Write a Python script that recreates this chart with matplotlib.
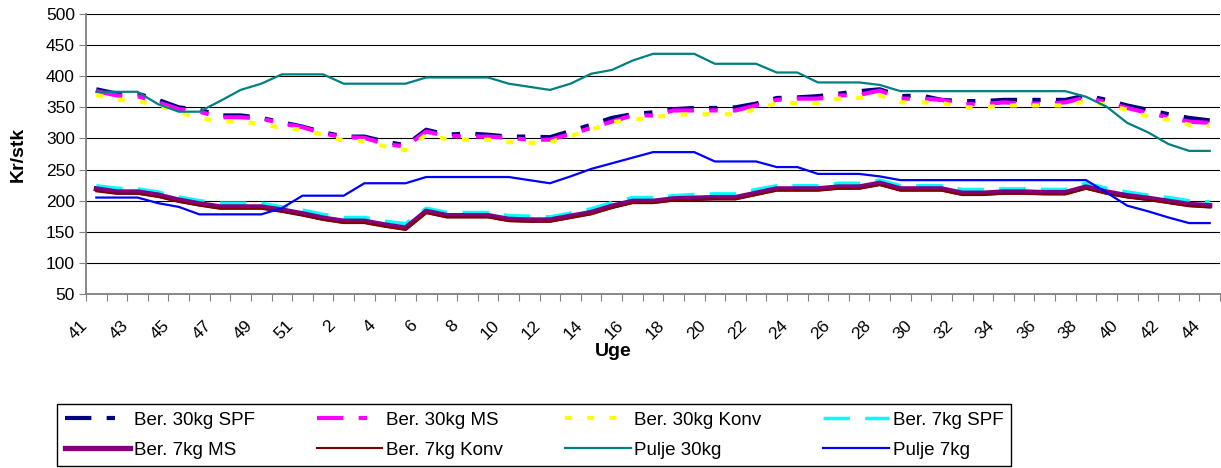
import matplotlib
matplotlib.use('Agg')
import numpy as np
import matplotlib.pyplot as plt
import matplotlib.transforms as mtransforms

plt.rcParams['font.family'] = ['Liberation Sans', 'DejaVu Sans']
plt.rcParams['lines.scale_dashes'] = False

# Week numbers (week 41 -> week 44 next year)
weeks = [41, 42, 43, 44, 45, 46, 47, 48, 49, 50, 51, 52] + list(range(2, 45))

# Prices, kr/stk
spf30 = [379, 372, 372, 362, 350, 346, 337, 337, 333, 326, 319, 310, 303, 303, 295,
         289, 314, 306, 308, 306, 303, 303, 302, 312, 322, 333, 339, 342, 347, 349,
         349, 350, 356, 365, 366, 368, 372, 376, 379, 368, 369, 362, 360, 360, 362,
         362, 362, 362, 369, 362, 353, 346, 339, 333, 329]
ms30 = [376, 369, 368, 358, 347, 343, 334, 334, 332, 324, 318, 308, 302, 301, 291,
        287, 311, 304, 303, 303, 301, 298, 298, 307, 317, 327, 337, 337, 345, 345,
        345, 345, 353, 362, 364, 364, 369, 370, 377, 364, 364, 362, 355, 355, 358,
        356, 356, 358, 366, 358, 349, 341, 334, 327, 325]
konv30 = [370, 362, 360, 353, 342, 333, 327, 327, 323, 317, 314, 306, 296, 296, 287,
          281, 306, 299, 298, 298, 294, 293, 294, 304, 314, 326, 330, 334, 338, 339,
          339, 339, 347, 357, 357, 357, 364, 365, 369, 358, 358, 357, 350, 350, 353,
          353, 353, 353, 360, 354, 346, 335, 330, 322, 320]
spf7 = [224, 220, 219, 214, 206, 200, 196, 196, 196, 190, 185, 178, 173, 173, 167,
        163, 188, 181, 181, 181, 176, 175, 174, 180, 187, 197, 205, 205, 208, 210,
        211, 211, 218, 224, 224, 224, 228, 228, 233, 224, 224, 224, 218, 218, 219,
        219, 218, 218, 228, 220, 214, 209, 205, 200, 198]
ms7 = [219, 214, 214, 209, 201, 195, 190, 190, 190, 185, 179, 172, 167, 167, 161,
       156, 183, 176, 176, 176, 170, 169, 169, 175, 181, 191, 199, 199, 203, 204,
       205, 205, 212, 219, 219, 219, 222, 222, 228, 219, 219, 219, 212, 212, 214,
       214, 213, 213, 222, 214, 208, 204, 199, 194, 192]
konv7 = [215, 211, 211, 206, 198, 192, 187, 187, 187, 182, 176, 169, 164, 164, 158,
         153, 180, 173, 173, 173, 167, 166, 166, 172, 178, 188, 196, 196, 200, 201,
         202, 202, 209, 216, 216, 216, 219, 219, 225, 216, 216, 216, 209, 209, 211,
         211, 210, 210, 219, 211, 205, 201, 196, 191, 189]
pulje30 = [375, 375, 375, 355, 343, 343, 360, 378, 388, 403, 403, 403, 388, 388, 388,
           388, 398, 398, 398, 398, 388, 383, 378, 388, 404, 410, 425, 436, 436, 436,
           420, 420, 420, 406, 406, 390, 390, 390, 386, 376, 376, 376, 376, 376, 376,
           376, 376, 376, 367, 351, 325, 310, 291, 280, 280]
pulje7 = [205, 205, 205, 196, 190, 178, 178, 178, 178, 188, 208, 208, 208, 228, 228,
          228, 238, 238, 238, 238, 238, 233, 228, 239, 251, 260, 269, 278, 278, 278,
          263, 263, 263, 254, 254, 243, 243, 243, 239, 233, 233, 233, 233, 233, 233,
          233, 233, 233, 233, 213, 192, 183, 173, 164, 164]

W, H = 1221, 468
fig = plt.figure(figsize=(W / 100, H / 100), dpi=100)
ax = fig.add_axes([86 / W, 1 - 294 / H, (1220 - 86) / W, (294 - 14) / H])

x = np.arange(len(weeks))
l1, = ax.plot(x, spf30, color='#000080', lw=3.0, dashes=(19, 11, 6, 11), label='Ber. 30kg SPF')
l2, = ax.plot(x, ms30, color='#FF00FF', lw=3.0, dashes=(19, 11, 6, 11), label='Ber. 30kg MS')
l3, = ax.plot(x, konv30, color='#FFFF00', lw=3.0, dashes=(5, 11), label='Ber. 30kg Konv')
l4, = ax.plot(x, spf7, color='#00FFFF', lw=2.5, dashes=(19, 11), label='Ber. 7kg SPF')
l5, = ax.plot(x, ms7, color='#800080', lw=3.8, label='Ber. 7kg MS')
l6, = ax.plot(x, konv7, color='#800000', lw=1.5, label='Ber. 7kg Konv')
l7, = ax.plot(x, pulje30, color='#008080', lw=1.6, label='Pulje 30kg')
l8, = ax.plot(x, pulje7, color='#0000FF', lw=1.6, label='Pulje 7kg')

ax.set_ylim(50, 500)
ax.set_yticks(range(50, 501, 50))
ax.set_xlim(-0.5, len(weeks) - 0.5)
ax.yaxis.grid(True, color='black', lw=0.8)
ax.set_axisbelow(True)

for s in ['top', 'right']:
    ax.spines[s].set_visible(False)
for s in ['left', 'bottom']:
    ax.spines[s].set_color('#808080')
    ax.spines[s].set_linewidth(1.3)

# tick marks between categories, labels on every other week
ax.set_xticks(np.arange(-0.5, len(weeks), 1))
ax.set_xticklabels([])
ax.set_xticks(x[::2], minor=True)
ax.set_xticklabels([str(w) for w in weeks[::2]], minor=True, rotation=45, ha='right')
ax.tick_params(axis='x', which='major', length=5, color='#808080')
ax.tick_params(axis='x', which='minor', length=0, pad=17, labelsize=12.5)
ax.tick_params(axis='y', length=5, color='#808080', pad=3, labelsize=12.5)

offset = mtransforms.ScaledTranslation(-0.06, 0, fig.dpi_scale_trans)
for lab in ax.get_xticklabels(minor=True):
    lab.set_transform(lab.get_transform() + offset)

ax.set_ylabel('Kr/stk', fontsize=14, fontweight='bold', va='center')
ax.yaxis.set_label_coords((18 - 86) / 1134, 0.5)
ax.set_xlabel('Uge', fontsize=14, fontweight='bold', va='center')
ax.xaxis.set_label_coords((613 - 86) / 1134, (294 - 351) / 280)

# legend filled row-wise like the original
handles = [l1, l5, l2, l6, l3, l7, l4, l8]
leg = fig.legend(handles=handles, labels=[h.get_label() for h in handles],
                 ncol=4, loc='upper left', bbox_to_anchor=(57 / W, 1 - 404 / H),
                 borderaxespad=0, fontsize=13.5, frameon=True, fancybox=False,
                 edgecolor='black', framealpha=1, handlelength=3.5,
                 handletextpad=0.2, columnspacing=3.3, labelspacing=0.7,
                 borderpad=0.4)
leg.get_frame().set_linewidth(1.0)

fig.savefig('out.png', dpi=100)
